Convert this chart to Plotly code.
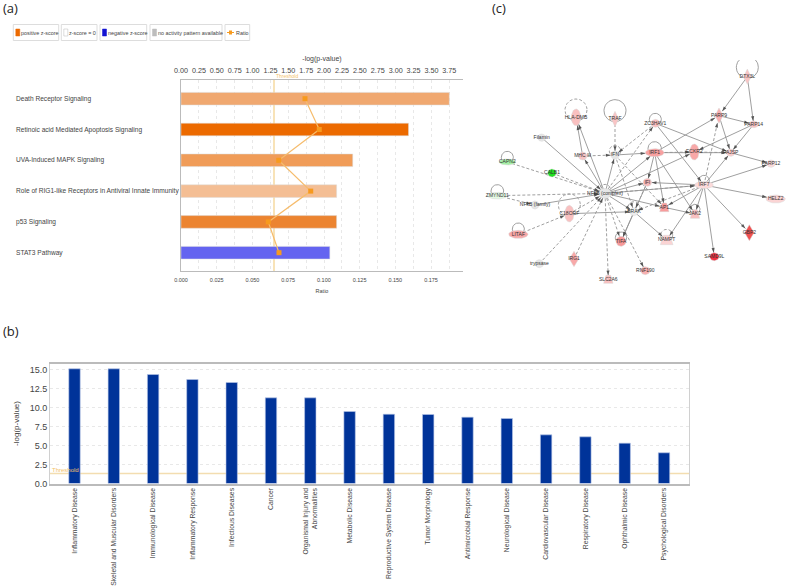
import math
import plotly.graph_objects as go

W, H = 787, 588
# ---------- panel (a) data
pathways = ["Death Receptor Signaling", "Retinoic acid Mediated Apoptosis Signaling", "UVA-Induced MAPK Signaling",
            "Role of RIG1-like Receptors in Antiviral Innate Immunity", "p53 Signaling", "STAT3 Pathway"]
pathway_logp = [3.75, 3.18, 2.40, 2.175, 2.175, 2.08]
pathway_ratio = [0.0868, 0.0968, 0.0684, 0.0908, 0.0611, 0.0686]
pathway_colors = ["#F0A870", "#EC6A00", "#F09C58", "#F4BE94", "#EC8430", "#6464F0"]
logp_ticks = [0, .25, .5, .75, 1, 1.25, 1.5, 1.75, 2, 2.25, 2.5, 2.75, 3, 3.25, 3.5, 3.75]
ratio_ticks = [0, .025, .05, .075, .1, .125, .15, .175]
threshold = 1.3
legend_items = ["positive z-score", "z-score = 0", "negative z-score", "no activity pattern available", "Ratio"]
# ---------- panel (b) data
diseases = ["Inflammatory Disease", "Skeletal and Muscular Disorders", "Immunological Disease", "Inflammatory Response",
            "Infectious Diseases", "Cancer", "Organismal Injury and<br>Abnormalities", "Metabolic Disease",
            "Reproductive System Disease", "Tumor Morphology", "Antimicrobial Response", "Neurological Disease",
            "Cardiovascular Disease", "Respiratory Disease", "Ophthalmic Disease", "Psychological Disorders"]
disease_logp = [15.09, 15.09, 14.34, 13.68, 13.29, 11.27, 11.27, 9.47, 9.12, 9.08, 8.73, 8.55, 6.4, 6.14, 5.31, 4.04]
# ---------- panel (c) data: name, x, y, shape, fill, w, h
nodes = [
 ("DTX3L", 802, 50, "diamond", "#F9C4C4", 22, 46), ("PARP9", 717, 167, "diamond", "#F8B0B0", 24, 46),
 ("PARP14", 821, 193, "ellipse", "#F9C4C4", 30, 20), ("ZC3HAV1", 526, 190, "ellipse", "#F9C0C0", 26, 24),
 ("HLA-DMB", 288, 172, "ellipse", "#F9C0C0", 28, 50), ("TRAF", 405, 177, "diamond", "#F9C4C4", 22, 46),
 ("Filamin", 185, 233, "ellipse", "#E6E6E6", 24, 22), ("MHC III", 308, 288, "ellipse", "#F6C4C4", 26, 24),
 ("IFN", 405, 285, "ellipse", "#E6E6E6", 26, 24), ("IRF1", 524, 278, "ellipse", "#F8A0A0", 56, 24),
 ("ECKR2", 643, 276, "ellipse", "#F8A8A8", 28, 48), ("PAJSP", 752, 278, "ellipse", "#F9CCCC", 26, 22),
 ("PARP12", 873, 311, "ellipse", "#FBDADA", 26, 22), ("CAPN2", 82, 306, "ellipse", "#A6F0A6", 50, 18),
 ("CALB1", 216, 339, "ellipse", "#20E020", 26, 24), ("ZMYND11", 52, 407, "ellipse", "#E4FAE4", 60, 20),
 ("NFkB (family)", 165, 435, "ellipse", "#E6E6E6", 24, 24), ("NFkB (complex)", 375, 400, "ellipse", "#E6E6E6", 38, 30),
 ("IRF7", 672, 375, "ellipse", "#FBDADA", 56, 22), ("IFI", 502, 367, "ellipse", "#F8B8B8", 26, 24),
 ("AP1", 553, 442, "trapezoid", "#F89C9C", 28, 26), ("JAK2", 645, 462, "trapezoid", "#F9C0C0", 28, 26),
 ("BRAK", 462, 455, "ellipse", "#EDEDED", 26, 24), ("C18ORF", 268, 461, "ellipse", "#F9C0C0", 28, 50),
 ("LITAF", 115, 523, "ellipse", "#F8A8A8", 58, 24), ("TIFA", 423, 544, "ellipse", "#F89898", 30, 30),
 ("NAMPT", 560, 540, "trapezoid", "#FBD4D4", 38, 28), ("IRG1", 282, 597, "diamond", "#F8A8A8", 28, 46),
 ("trypsase", 178, 611, "ellipse", "#E6E6E6", 26, 24), ("SLC2A6", 385, 658, "trapezoid", "#F9C0C0", 28, 24),
 ("RNF190", 496, 632, "ellipse", "#F8B0B0", 28, 24), ("SAMD9L", 703, 590, "ellipse", "#F03040", 28, 24),
 ("GBP2", 808, 518, "diamond", "#F05050", 28, 48), ("HELZ2", 887, 417, "ellipse", "#FBD4D4", 58, 24),
]
# self-loops: node, centre offset above node, radius, dashed
loops = [("DTX3L", 28, 33, False), ("ZC3HAV1", 12, 18, False), ("HLA-DMB", 22, 33, True), ("TRAF", 25, 33, False),
         ("IFN", 12, 17, True), ("IRF1", 13, 20, False), ("CAPN2", 14, 18, False), ("ZMYND11", 14, 19, False),
         ("NFkB (complex)", 10, 17, True), ("IRF7", 13, 16, False), ("JAK2", 14, 15, False), ("BRAK", 12, 18, True),
         ("C18ORF", 26, 33, True), ("LITAF", 16, 18, False), ("TIFA", 11, 17, False), ("NAMPT", 14, 18, True)]
H_ = "NFkB (complex)"
solid_edges = [("Filamin", H_), ("NFkB (family)", H_), ("C18ORF", "BRAK"), (H_, "HLA-DMB"), ("MHC III", "HLA-DMB"),
 (H_, "MHC III"), (H_, "IFN"), (H_, "IRF1"), (H_, "IFI"), (H_, "IRF7"), (H_, "ECKR2"), (H_, "AP1"), (H_, "BRAK"),
 ("BRAK", "NAMPT"), ("BRAK", "TIFA"), ("IFN", "IRF1"), ("IRF1", "PARP9"), ("IRF1", "PAJSP"), ("IRF1", "IFI"),
 ("IRF1", "AP1"), ("IRF1", "JAK2"), ("ZC3HAV1", "IRF7"), ("ZC3HAV1", "PAJSP"), ("IRF7", "IFI"), ("IRF7", "AP1"),
 ("IRF7", "JAK2"), ("IRF7", "NAMPT"), ("IRF7", "SAMD9L"), ("IRF7", "GBP2"), ("IRF7", "HELZ2"), ("IRF7", "PARP12"),
 ("IRF7", "PAJSP"), ("PARP9", "PARP14"), ("DTX3L", "PARP9"), ("DTX3L", "PARP14"), ("PARP9", "PAJSP"),
 ("PARP14", "PAJSP"), ("PARP14", "ECKR2"), ("PAJSP", "PARP12"), ("AP1", "JAK2"), ("IFI", "TIFA")]
dashed_edges = [("CALB1", H_), ("CAPN2", H_), ("ZMYND11", H_), ("ZMYND11", "NFkB (family)"), ("C18ORF", H_),
 ("LITAF", "C18ORF"), ("trypsase", H_), ("IRG1", H_), (H_, "SLC2A6"), (H_, "RNF190"), (H_, "TIFA"), ("TRAF", "IFN"),
 ("MHC III", "IFN"), ("IRF1", "ECKR2"), ("ECKR2", "PAJSP"), (H_, "ZC3HAV1"), ("ZC3HAV1", "IFN"), ("IFN", "AP1"),
 ("IFN", "BRAK"), ("IRF7", "PARP9"), ("IRF7", "BRAK"), ("IFI", "BRAK"), (H_, "IRF7")]

# ---------- helpers
def dx(a, b):
    return [a / W, b / W]
def dy(top, bottom):
    return [1 - bottom / H, 1 - top / H]

fig = go.Figure()
GRID = "#E8E8E8"
TXT = "#444444"
FONT = "Liberation Sans"

# ---------- panel (a)
fig.add_trace(go.Bar(y=pathways, x=pathway_logp, orientation="h", xaxis="x", yaxis="y", width=0.41,
                     marker=dict(color=pathway_colors, line=dict(color="#DDDDDD", width=0.5)), showlegend=False))
fig.add_trace(go.Scatter(y=pathways, x=pathway_ratio, xaxis="x2", yaxis="y", mode="lines+markers",
                         line=dict(color="#F6BC6C", width=1.2), marker=dict(symbol="square", size=5, color="#F79A1E"),
                         showlegend=False))
axis_a = dict(range=[0, 282 / 71.55], tickvals=logp_ticks, ticktext=[f"{t:.2f}" for t in logp_ticks], anchor="y",
              side="top", domain=dx(181, 463), tickfont=dict(size=7.2, color=TXT, family=FONT), showgrid=True,
              gridcolor=GRID, griddash="dot", gridwidth=0.7, zeroline=False, showline=True, linecolor="#BBBBBB",
              ticks="", automargin=False, ticklabelstandoff=3,
              title=dict(text="-log(p-value)", font=dict(size=7, color=TXT, family=FONT), standoff=3))
axis_a2 = dict(range=[0, 282 / 1428.6], tickvals=ratio_ticks, ticktext=[f"{t:.3f}" for t in ratio_ticks], overlaying="x",
               anchor="y", side="bottom", tickfont=dict(size=5.5, color=TXT, family=FONT), showgrid=False, zeroline=False,
               showline=True, linecolor="#BBBBBB", ticks="", automargin=False, ticklabelstandoff=3,
               title=dict(text="Ratio", font=dict(size=5.5, color=TXT, family=FONT), standoff=7))
axis_ay = dict(domain=dy(80, 271), anchor="x", type="category", categoryorder="array", categoryarray=pathways,
               range=[(271 - 98.7) / 30.8, -(98.7 - 80) / 30.8], showticklabels=False, showgrid=False, zeroline=False,
               showline=True, linecolor="#BBBBBB", ticks="", automargin=False)

shapes = [dict(type="line", xref="x", yref="y domain", x0=threshold, x1=threshold, y0=0, y1=1,
               line=dict(color="#F8E3B8", width=2), layer="below")]
annots = []
def text(x, y, s, size=8, color=TXT, anchor="left", font=FONT, **kw):
    annots.append(dict(xref="paper", yref="paper", x=x / W, y=1 - y / H, text=s, showarrow=False, xanchor=anchor,
                       yanchor="middle", font=dict(size=size, color=color, family=font), **kw))
for name in pathways:
    annots.append(dict(xref="paper", yref="y", x=13.5 / W, y=name, text=name, showarrow=False, xanchor="left",
                       yanchor="middle", font=dict(size=6.6, color=TXT, family=FONT)))
text(274, 76.5, "Threshold", 5, "#F3C26A")
text(1, 8, "(a)", 13, "#222222", font="Open Sans")
text(1, 331, "(b)", 13, "#222222", font="Open Sans")
text(490, 8, "(c)", 13, "#222222", font="Open Sans")

# legend boxes
boxes = [(13.3, 58.7), (61.3, 97), (100, 146.7), (150, 222), (225, 249.7)]
swatches = ["#EC6A00", "#FFFFFF", "#1414D2", "#BDBDBD", None]
for (x0, x1), sw, lab in zip(boxes, swatches, legend_items):
    shapes.append(dict(type="rect", xref="paper", yref="paper", x0=x0 / W, x1=x1 / W, y0=1 - 40.5 / H, y1=1 - 24.5 / H,
                       line=dict(color="#DDDDDD", width=1), fillcolor="#FFFFFF"))
    if sw:
        shapes.append(dict(type="rect", xref="paper", yref="paper", x0=(x0 + 2.5) / W, x1=(x0 + 6.5) / W,
                           y0=1 - 36 / H, y1=1 - 29 / H, line=dict(color="#BBBBBB" if sw == "#FFFFFF" else sw, width=0.5),
                           fillcolor=sw))
        text(x0 + 5.5, 33, lab, 5.4)
    else:
        shapes.append(dict(type="line", xref="paper", yref="paper", x0=(x0 + 2) / W, x1=(x0 + 9) / W, y0=1 - 32.5 / H,
                           y1=1 - 32.5 / H, line=dict(color="#F79A1E", width=1)))
        shapes.append(dict(type="rect", xref="paper", yref="paper", x0=(x0 + 4) / W, x1=(x0 + 7) / W, y0=1 - 34.5 / H,
                           y1=1 - 30.5 / H, line=dict(width=0), fillcolor="#F79A1E"))
        text(x0 + 9, 33, lab, 5.4)

# ---------- panel (b)
fig.add_trace(go.Bar(x=diseases, y=disease_logp, xaxis="x3", yaxis="y3", width=0.29,
                     marker=dict(color="#003399", line=dict(color="#B8C8E8", width=0.6)), showlegend=False))
axis_b = dict(domain=dx(50, 689), anchor="y3", type="category", categoryorder="array", categoryarray=diseases,
              range=[-24.5 / 39.3, 15 + 25 / 39.3], tickangle=-90, tickfont=dict(size=6.8, color=TXT, family=FONT),
              showgrid=False, zeroline=False, showline=True, linecolor="#BBBBBB", linewidth=1.5, mirror=True, ticks="",
              automargin=False)
axis_by = dict(domain=dy(363.5, 483.5), anchor="x3", range=[0, 120 / 7.6], tickvals=[0, 2.5, 5, 7.5, 10, 12.5, 15],
               ticktext=["0.0", "2.5", "5.0", "7.5", "10.0", "12.5", "15.0"],
               tickfont=dict(size=9, color=TXT, family=FONT),
               showgrid=True, gridcolor=GRID, griddash="dot", zeroline=False, showline=True, linecolor="#D0D0D0",
               mirror=True, ticks="", automargin=False,
               title=dict(text="-log(p-value)", font=dict(size=8, color=TXT, family=FONT), standoff=8))
shapes.append(dict(type="line", xref="x3 domain", yref="y3", x0=0, x1=1, y0=threshold, y1=threshold, layer="below",
                   line=dict(color="#F3DDB0", width=1.5)))
text(50, 470, "Threshold", 6, "#F3C26A")

# ---------- panel (c)
idx = {n[0]: n for n in nodes}
def boundary(src, dst):
    """Point where the straight edge src -> dst meets the edge of dst's outline."""
    sx, sy, tx, ty = src[1], src[2], dst[1], dst[2]
    d = math.hypot(tx - sx, ty - sy)
    ux, uy = (tx - sx) / d, (ty - sy) / d
    a, b = dst[5] / 2, dst[6] / 2
    r = 1 / math.hypot(ux / a, uy / b)
    return tx - ux * r, ty - uy * r, math.degrees(math.atan2(ux, -uy))

def edges_trace(edges, dash):
    xs, ys, ax, ay, ang = [], [], [], [], []
    for s, t in edges:
        a, b = idx[s], idx[t]
        ex, ey, th = boundary(a, b)
        xs += [a[1], ex, None]
        ys += [a[2], ey, None]
        ax.append(ex); ay.append(ey); ang.append(th)
    fig.add_trace(go.Scatter(x=xs, y=ys, mode="lines", xaxis="x4", yaxis="y4", showlegend=False,
                             line=dict(color="#949494", width=0.9, dash=dash)))
    return ax, ay, ang

a1 = edges_trace(solid_edges, "solid")
a2 = edges_trace(dashed_edges, "3px,2px")

def outline(kind, cx, cy, w, h):
    if kind == "ellipse":
        pts = [(cx + w / 2 * math.cos(i * math.pi / 20), cy + h / 2 * math.sin(i * math.pi / 20)) for i in range(41)]
    elif kind == "diamond":
        pts = [(cx, cy - h / 2), (cx + w / 2, cy), (cx, cy + h / 2), (cx - w / 2, cy), (cx, cy - h / 2)]
    else:
        pts = [(cx - w / 4, cy - h / 2), (cx + w / 4, cy - h / 2), (cx + w / 2, cy + h / 2), (cx - w / 2, cy + h / 2),
               (cx - w / 4, cy - h / 2)]
    return [p[0] for p in pts], [p[1] for p in pts]

for name, off, r, dashed in loops:
    n = idx[name]
    x, y = outline("ellipse", n[1], n[2] - off, 2 * r, 2 * r)
    fig.add_trace(go.Scatter(x=x, y=y, mode="lines", xaxis="x4", yaxis="y4", showlegend=False,
                             line=dict(color="#949494", width=0.9, dash="3px,2px" if dashed else "solid")))
for n in nodes:
    x, y = outline(n[3], n[1], n[2], n[5], n[6])
    fig.add_trace(go.Scatter(x=x, y=y, mode="lines", fill="toself", fillcolor=n[4], xaxis="x4", yaxis="y4",
                             showlegend=False, line=dict(color="#D8D8D8", width=0.5)))
fig.add_trace(go.Scatter(x=a1[0] + a2[0], y=a1[1] + a2[1], mode="markers", xaxis="x4", yaxis="y4", showlegend=False,
                         marker=dict(symbol="arrow", size=5, color="#555555", angle=a1[2] + a2[2], line=dict(width=0))))
fig.add_trace(go.Scatter(x=[n[1] for n in nodes], y=[n[2] for n in nodes], text=[n[0] for n in nodes], mode="text",
                         xaxis="x4", yaxis="y4", showlegend=False,
                         textfont=dict(size=5, color="#333333", family=FONT)))
hidden = dict(visible=False, showgrid=False, zeroline=False, automargin=False)
axis_c = dict(domain=dx(480, 787), anchor="y4", range=[0, 921], **hidden)
axis_cy = dict(domain=dy(60, 300), anchor="x4", range=[720, 0], **hidden)

fig.update_layout(width=W, height=H, margin=dict(l=0, r=0, t=0, b=0), paper_bgcolor="white", plot_bgcolor="white",
                  barmode="overlay", showlegend=False, shapes=shapes, annotations=annots,
                  font=dict(family=FONT),
                  xaxis=axis_a, xaxis2=axis_a2, yaxis=axis_ay, xaxis3=axis_b, yaxis3=axis_by, xaxis4=axis_c, yaxis4=axis_cy)
fig.write_html("out.html", config=dict(displayModeBar=False),
               post_script="document.body.style.margin='0';document.body.style.overflow='hidden';")
